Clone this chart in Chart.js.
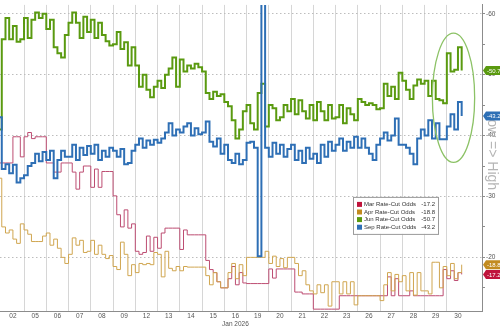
<!DOCTYPE html>
<html>
<head>
<meta charset="utf-8">
<script src="https://cdn.jsdelivr.net/npm/chart.js@4.4.1/dist/chart.umd.min.js"></script>
<style>
  html, body { margin: 0; padding: 0; background: #fff; }
  canvas { display: block; }
</style>
</head>
<body>
<canvas id="chart" width="500" height="329"></canvas>
<script>
// trading days shown on the x axis (Jan 2026)
const dayLabels = ['02', '05', '06', '07', '08', '09', '12', '13', '14', '15', '16',
                   '19', '20', '21', '22', '23', '26', '27', '28', '29', '30'];
const monthDay = '16';
const monthLabel = 'Jan 2026';

const seriesNames = ['Mar Rate-Cut Odds', 'Apr Rate-Cut Odds', 'Jun Rate-Cut Odds', 'Sep Rate-Cut Odds'];
const yTicks = [-60, -50, -40, -30, -20];
const yMinorTicks = [-55, -45, -35, -25, -15];
const sideLabel = 'Low => High';

// 6 readings per trading day, first value is the prior close
const PER_DAY = 6;
const FIRST_T = -0.08;

const junOdds = [-41,
  -55.8, -59.3, -55.8, -58.0, -55.4, -55.8,
  -59.3, -56.0, -59.0, -60.2, -59.3, -60.0,
  -57.5, -59.0, -54.5, -53.5, -52.8, -56.5,
  -58.5, -60.2, -58.5, -56.0, -59.5, -57.0,
  -59.0, -56.0, -58.5, -56.5, -55.5, -54.8,
  -55.0, -57.0, -54.2, -55.3, -51.5, -54.5,
  -51.5, -48.0, -50.0, -47.5, -46.3, -48.0,
  -49.0, -47.8, -50.0, -51.0, -52.8, -48.0,
  -52.5, -50.5, -51.5, -51.0, -51.8, -51.2,
  -50.5, -47.0, -46.0, -47.2, -46.5, -46.8,
  -45.5, -44.8, -42.5, -39.5, -41.0, -44.0,
  -45.0, -42.0, -41.0, -47.0, -48.5, -41.5,
  -45.0, -44.5, -42.5, -43.0, -45.0, -44.0,
  -46.0, -43.5, -45.8, -44.0, -42.8, -45.0,
  -42.5, -45.5, -44.0, -42.5, -45.0, -42.8,
  -43.0, -45.0, -42.0, -44.5, -43.5, -42.5,
  -46.0, -45.5, -45.0, -45.3, -45.0, -44.3,
  -44.5, -48.5, -46.5, -48.0, -46.0, -50.3,
  -49.0, -47.5, -46.0, -48.2, -49.2, -48.5,
  -49.0, -46.5, -49.0, -46.0, -45.8, -45.3,
  -53.5, -50.5, -50.8, -54.5, -50.7];

const sepOdds = [-43,
  -34.5, -35.3, -33.8, -35.2, -32.3, -33.0,
  -33.5, -35.0, -35.5, -37.0, -35.8, -37.3,
  -36.0, -37.5, -33.0, -36.0, -37.5, -36.5,
  -36.5, -38.5, -36.0, -38.0, -36.8, -38.3,
  -37.0, -38.5, -36.0, -37.5, -36.5, -38.0,
  -37.5, -36.5, -37.8, -35.3, -35.5, -37.5,
  -38.5, -39.5, -38.0, -39.2, -38.5, -39.3,
  -38.8, -39.5, -40.5, -42.0, -40.0, -41.0,
  -40.5, -41.5, -42.0, -40.0, -41.2, -40.2,
  -40.5, -42.3, -39.0, -38.2, -39.5, -37.0,
  -38.5, -36.0, -35.5, -37.0, -35.3, -36.0,
  -38.8, -39.0, -38.0, -20.2, -65.0, -38.0,
  -36.5, -38.8, -37.0, -38.5, -36.5, -37.8,
  -38.5, -36.0, -37.5, -35.5, -38.0, -36.2,
  -37.0, -35.5, -38.5, -36.5, -39.0, -37.5,
  -38.5, -39.5, -37.5, -39.0, -38.0, -39.8,
  -38.0, -39.5, -38.0, -37.0, -36.0, -38.5,
  -39.5, -40.5, -39.2, -40.0, -42.8, -38.5,
  -38.5, -38.0, -37.0, -35.3, -39.5, -41.0,
  -40.0, -42.5, -39.5, -42.0, -39.4, -39.4,
  -41.5, -43.5, -41.0, -45.5, -43.2];

const aprOdds = [-33,
  -25.0, -24.0, -24.5, -23.0, -22.3, -25.5,
  -24.5, -23.8, -22.6, -22.6, -22.6, -23.5,
  -24.0, -22.0, -23.0, -21.5, -20.0, -19.0,
  -20.5, -23.2, -22.0, -22.8, -20.8, -21.0,
  -22.8, -20.5, -22.0, -20.5, -19.8, -20.3,
  -18.5, -18.0, -22.5, -20.5, -17.0, -18.8,
  -17.5, -19.0, -18.8, -19.0, -18.8, -20.8,
  -20.5, -16.8, -21.0, -18.2, -17.8, -18.5,
  -17.8, -18.5, -18.4, -18.4, -18.4, -18.4,
  -18.4, -17.0, -15.5, -17.5, -16.0, -15.0,
  -15.0, -17.5, -19.0, -16.5, -18.8, -17.0,
  -20.0, -20.0, -20.0, -20.0, -20.0, -21.0,
  -19.0, -20.2, -18.5, -19.8, -18.3, -20.0,
  -20.0, -19.0, -17.0, -17.8, -15.5, -14.5,
  -14.0, -15.5, -14.2, -15.5, -12.0, -16.0,
  -16.0, -14.0, -16.0, -14.0, -16.0, -12.2,
  -13.7, -13.7, -13.7, -13.7, -13.7, -13.7,
  -12.9, -15.5, -17.5, -14.5, -17.2, -16.0,
  -17.0, -14.5, -17.5, -13.8, -17.5, -14.5,
  -14.5, -14.0, -19.2, -19.2, -15.0, -18.5,
  -17.0, -19.0, -16.5, -17.5, -18.8];

const marOdds = [-35.5,
  -35.5, -35.5, -35.5, -39.8, -39.8, -36.5,
  -39.8, -40.5, -39.5, -39.8, -39.8, -39.8,
  -35.5, -35.5, -34.0, -34.0, -35.5, -35.5,
  -35.5, -34.0, -31.2, -34.0, -35.0, -35.0,
  -31.5, -34.5, -31.5, -34.1, -34.1, -34.1,
  -30.1, -27.0, -25.0, -27.8, -24.8, -25.5,
  -21.0, -20.5, -20.8, -23.5, -21.0, -23.3,
  -21.5, -24.0, -24.8, -24.8, -24.8, -24.8,
  -21.3, -24.5, -23.7, -23.7, -23.7, -23.7,
  -23.7, -19.5, -18.0, -17.5, -16.0, -15.0,
  -15.0, -16.5, -18.5, -15.5, -17.5, -15.8,
  -15.7, -15.7, -15.7, -15.7, -15.7, -15.7,
  -18.1, -16.6, -18.1, -18.1, -18.1, -18.1,
  -18.1, -14.3, -14.3, -14.0, -14.0, -14.0,
  -11.5, -11.5, -11.5, -11.5, -11.5, -11.5,
  -11.5, -13.7, -13.7, -13.7, -13.7, -13.7,
  -13.7, -13.7, -13.7, -13.7, -13.7, -13.7,
  -13.7, -13.7, -16.8, -13.7, -16.5, -13.7,
  -13.7, -13.7, -14.5, -13.7, -13.7, -13.7,
  -13.7, -13.7, -13.7, -13.7, -13.7, -18.0,
  -16.5, -17.8, -16.2, -17.5, -17.2];

// circled area around the last session
const focus = { x: 20.3, y: -46.2, rx: 0.95, ry: 10.6 };

const colors = {
  mar: '#c0143c', marLine: '#bd4d72',
  apr: '#c28b1f', aprLine: '#d0a650',
  jun: '#5a9a10', sep: '#2e6fb5'
};

function timeAt(i) {
  return i === 0 ? FIRST_T : (i - 1) / PER_DAY;
}

function makeSeries(label, values, color, width) {
  return {
    label,
    data: values.map((v, i) => ({ x: timeAt(i), y: v })),
    borderColor: color,
    borderWidth: width,
    pointRadius: 0,
    stepped: true,
    fill: false,
    borderJoinStyle: 'miter'
  };
}

function drawTag(ctx, x0, yc, color, text) {
  const h = 9, w = 22;
  ctx.beginPath();
  ctx.moveTo(x0, yc);
  ctx.lineTo(x0 + 3, yc - h / 2);
  ctx.lineTo(x0 + w, yc - h / 2);
  ctx.lineTo(x0 + w, yc + h / 2);
  ctx.lineTo(x0 + 3, yc + h / 2);
  ctx.closePath();
  ctx.fillStyle = color;
  ctx.fill();
  ctx.fillStyle = '#fff';
  ctx.font = '6px Arial';
  ctx.textAlign = 'left';
  ctx.textBaseline = 'middle';
  ctx.fillText(text, x0 + 4, yc + 0.5);
}

const overlay = {
  id: 'overlay',
  afterDatasetsDraw(chart) {
    const { ctx, scales: { x, y } } = chart;
    const cx = x.getPixelForValue(focus.x);
    const cy = y.getPixelForValue(focus.y);
    const rx = x.getPixelForValue(focus.x + focus.rx) - cx;
    const ry = Math.abs(y.getPixelForValue(focus.y + focus.ry) - cy);
    ctx.save();
    ctx.strokeStyle = '#8cc266';
    ctx.lineWidth = 1.3;
    ctx.beginPath();
    ctx.ellipse(cx, cy, rx, ry, 0, 0, Math.PI * 2);
    ctx.stroke();
    ctx.restore();
  },
  afterDraw(chart) {
    const { ctx, chartArea, scales: { y } } = chart;
    const series = [
      [marOdds, colors.mar], [aprOdds, colors.apr], [junOdds, colors.jun], [sepOdds, colors.sep]
    ];
    ctx.save();

    // side label
    ctx.save();
    ctx.translate(chartArea.right + 10, y.getPixelForValue(-37.5));
    ctx.rotate(Math.PI / 2);
    ctx.font = '14px Arial';
    ctx.fillStyle = '#b5b5b5';
    ctx.textAlign = 'center';
    ctx.textBaseline = 'middle';
    ctx.fillText(sideLabel, 0, 0);
    ctx.restore();

    // last value tags
    [2, 3, 1, 0].forEach(i => {
      const [vals, col] = series[i];
      const last = vals[vals.length - 1];
      drawTag(ctx, chartArea.right + 1, y.getPixelForValue(last), col, last.toFixed(1));
    });

    // legend box
    const lx = chartArea.right - 129, ly = chartArea.top + 192, lw = 85, lh = 37;
    ctx.fillStyle = '#fff';
    ctx.fillRect(lx, ly, lw, lh);
    ctx.strokeStyle = '#9a9a9a';
    ctx.lineWidth = 1;
    ctx.strokeRect(lx + 0.5, ly + 0.5, lw, lh);
    ctx.font = '6px Arial';
    ctx.textBaseline = 'middle';
    series.forEach(([vals, col], i) => {
      const ry = ly + 7.5 + i * 7.6;
      ctx.fillStyle = col;
      ctx.fillRect(lx + 4, ry - 2.5, 5, 5);
      ctx.fillStyle = '#333';
      ctx.textAlign = 'left';
      ctx.fillText(seriesNames[i], lx + 11, ry);
      ctx.textAlign = 'right';
      ctx.fillText(vals[vals.length - 1].toFixed(1), lx + lw - 3, ry);
    });
    ctx.restore();
  }
};

new Chart(document.getElementById('chart'), {
  type: 'line',
  data: {
    datasets: [
      makeSeries(seriesNames[3], sepOdds, colors.sep, 2),
      makeSeries(seriesNames[2], junOdds, colors.jun, 2),
      makeSeries(seriesNames[1], aprOdds, colors.aprLine, 1),
      makeSeries(seriesNames[0], marOdds, colors.marLine, 1)
    ]
  },
  options: {
    responsive: false,
    animation: false,
    layout: { padding: 0 },
    plugins: { legend: { display: false }, tooltip: { enabled: false } },
    scales: {
      x: {
        type: 'linear',
        min: FIRST_T,
        max: 21.58,
        afterBuildTicks(scale) {
          const ticks = [];
          dayLabels.forEach((_, i) => {
            if (i > 0) ticks.push({ value: i });
            ticks.push({ value: i + 0.5 });
          });
          scale.ticks = ticks;
        },
        ticks: {
          autoSkip: false,
          maxRotation: 0,
          padding: 1,
          color: '#555',
          font: { family: 'Arial', size: 6.5 },
          callback(value) {
            if (Number.isInteger(value)) return '';
            const label = dayLabels[Math.floor(value)];
            return label === monthDay ? [label, monthLabel] : label;
          }
        },
        grid: {
          drawTicks: false,
          color: c => Number.isInteger(c.tick && c.tick.value) ? '#d6d6d6' : 'rgba(0,0,0,0)'
        },
        border: { display: true, color: '#8c8c8c', width: 1 }
      },
      y: {
        position: 'right',
        reverse: true,
        min: -61.45,
        max: -11.13,
        afterBuildTicks(scale) {
          scale.ticks = yTicks.concat(yMinorTicks).sort((a, b) => a - b).map(v => ({ value: v }));
        },
        afterFit(scale) { scale.width = 18; },
        ticks: {
          padding: 1,
          color: '#555',
          font: { family: 'Arial', size: 6.5 },
          callback: v => yTicks.includes(v) ? String(v) : ''
        },
        grid: {
          drawTicks: true,
          tickLength: 3,
          tickColor: '#8c8c8c',
          color: c => yTicks.includes(c.tick && c.tick.value) ? '#bdbdbd' : 'rgba(0,0,0,0)'
        },
        border: { display: true, color: '#8c8c8c', width: 1, dash: [1.5, 2.5] }
      }
    }
  },
  plugins: [overlay]
});
</script>
</body>
</html>
